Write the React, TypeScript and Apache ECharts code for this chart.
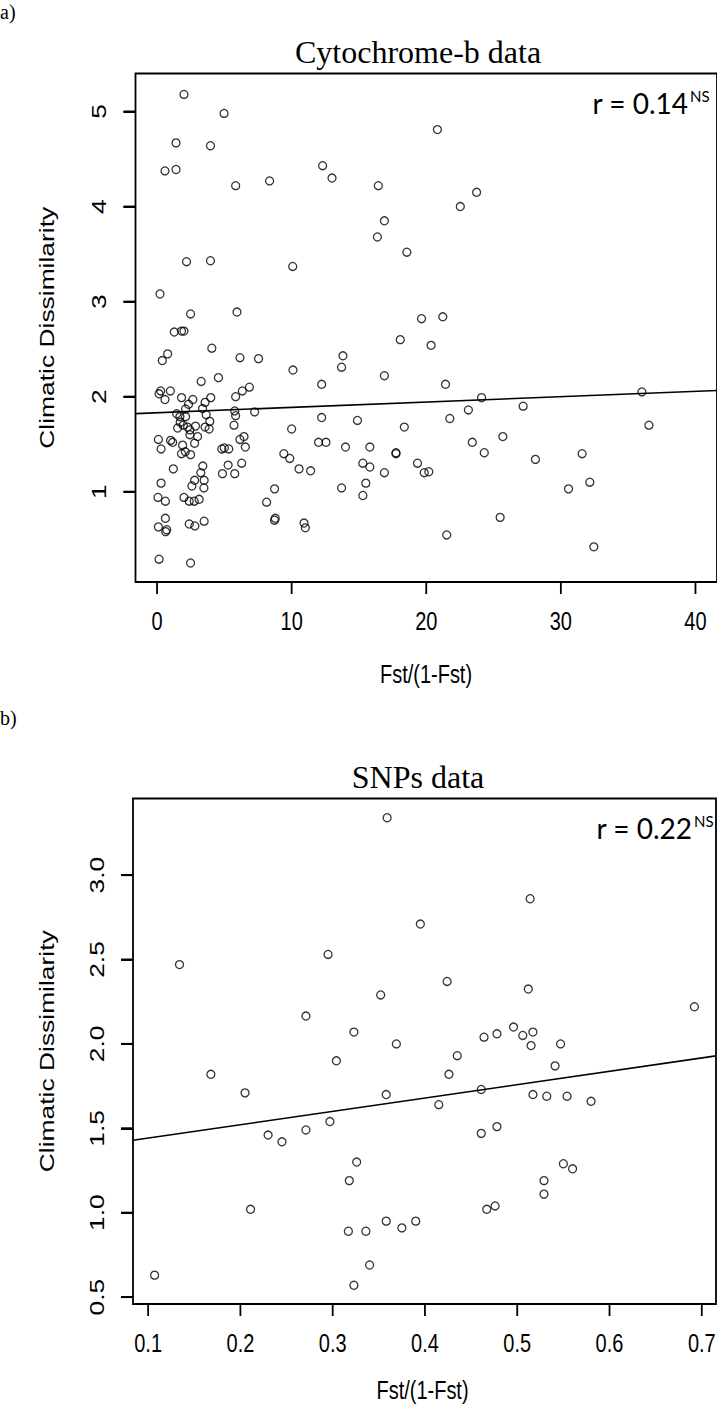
import React, { useEffect, useRef } from "react";
import * as echarts from "echarts";

// Panel a: Cytochrome-b data
const cytbFst: number[] = [
  2.0, 4.98, 1.41, 3.97, 0.59, 1.41, 5.84, 8.36, 12.3, 13.0, 2.19, 3.97, 10.08, 0.22,
  20.83, 16.44, 23.74, 22.53, 16.89, 16.37, 18.56,
  2.49, 5.94, 1.28, 1.82, 2.0, 4.07, 0.79, 0.39, 6.16, 7.54, 10.1, 12.23, 3.28, 4.56,
  0.27, 0.15, 0.99, 0.59, 1.82, 2.66, 3.99, 2.34, 3.57, 2.12, 3.38, 5.84, 6.34, 6.86,
  1.46, 1.7, 2.12, 3.65, 5.77, 5.84, 7.25, 1.72, 1.95, 3.92, 3.57, 1.53, 2.27, 2.44,
  2.86, 3.87, 5.72, 2.44, 3.01, 2.79, 0.1, 0.3, 1.01, 1.16, 1.9, 1.82, 2.1, 2.49,
  6.16, 6.46, 6.56, 4.81, 5.0, 5.33, 10.0, 12.23, 12.0, 12.55, 9.42, 9.86, 10.55, 11.41,
  1.21, 3.4, 3.25, 5.28, 6.29, 4.86, 5.77, 2.79, 2.59, 3.5, 3.48, 0.3, 0.07, 0.62,
  2.0, 2.39, 2.76, 3.13, 8.73, 8.14, 8.78, 8.73, 0.62, 0.1, 0.72, 0.64, 2.39, 2.81,
  3.5, 10.92, 11.02, 0.15, 2.49,
  19.65, 21.23, 18.07, 20.36, 13.81, 13.71, 16.89, 21.43, 24.11, 23.13, 14.89, 21.75,
  18.37, 14.0, 15.81, 17.75, 17.75, 23.42, 25.69, 24.31, 15.29, 15.81, 16.89, 19.35,
  19.85, 20.19, 15.51, 15.29, 13.71, 25.49, 21.52,
  36.02, 27.2, 36.54, 28.11, 31.58, 32.15, 30.57, 32.45,
];
const cytbClim: number[] = [
  5.18, 4.98, 4.67, 4.64, 4.375, 4.39, 4.22, 4.27, 4.43, 4.3, 3.42, 3.43, 3.37, 3.08,
  4.81, 4.22, 4.15, 4.0, 3.85, 3.68, 3.52,
  2.87, 2.89, 2.68, 2.69, 2.69, 2.51, 2.45, 2.38, 2.41, 2.4, 2.28, 2.13, 2.16, 2.2,
  2.06, 2.03, 2.06, 1.97, 1.99, 1.97, 1.99, 1.92, 1.94, 1.87, 1.875, 2.0, 2.06, 2.1,
  1.82, 1.79, 1.79, 1.81, 1.85, 1.8, 1.84, 1.73, 1.7, 1.74, 1.68, 1.67, 1.68, 1.65,
  1.69, 1.66, 1.7, 1.6, 1.58, 1.51, 1.55, 1.45, 1.54, 1.52, 1.49, 1.4, 1.42, 1.39,
  1.55, 1.58, 1.47, 1.45, 1.46, 1.45, 1.66, 1.78, 1.52, 1.52, 1.4, 1.35, 1.24, 1.22,
  1.24, 1.27, 1.2, 1.28, 1.3, 1.19, 1.19, 1.12, 1.06, 1.12, 1.04, 1.09, 0.94, 0.9,
  0.94, 0.9, 0.9, 0.92, 1.03, 0.89, 0.72, 0.7, 0.72, 0.63, 0.6, 0.58, 0.66, 0.64,
  0.69, 0.67, 0.62, 0.29, 0.25,
  2.82, 2.84, 2.6, 2.54, 2.43, 2.31, 2.22, 2.13, 1.99, 1.86, 1.75, 1.77,
  1.68, 1.47, 1.47, 1.41, 1.4, 1.52, 1.58, 1.41, 1.3, 1.26, 1.2, 1.3,
  1.2, 1.21, 1.09, 0.96, 1.04, 0.73, 0.545,
  2.05, 1.9, 1.7, 1.34, 1.4, 1.1, 1.03, 0.42,
];

// Panel b: SNPs data
const snpFst: number[] = [
  0.359, 0.395, 0.134, 0.295, 0.352, 0.271, 0.323, 0.514, 0.424, 0.512, 0.692,
  0.464, 0.478, 0.496, 0.506, 0.517, 0.515, 0.547, 0.435, 0.541, 0.426, 0.461,
  0.415, 0.517, 0.532, 0.554, 0.58, 0.461, 0.478, 0.55, 0.56, 0.529, 0.529, 0.467,
  0.476, 0.369, 0.304, 0.168, 0.205, 0.358, 0.23, 0.245, 0.271, 0.297, 0.326, 0.318,
  0.211, 0.317, 0.336, 0.358, 0.375, 0.39, 0.34, 0.323, 0.107,
];
const snpClim: number[] = [
  3.34, 2.71, 2.47, 2.53, 2.29, 2.165, 2.07, 2.86, 2.37, 2.325, 2.22,
  2.04, 2.06, 2.1, 2.05, 2.07, 1.99, 2.0, 1.93, 1.87, 1.82, 1.73,
  1.64, 1.7, 1.69, 1.69, 1.66, 1.47, 1.51, 1.29, 1.26, 1.19, 1.11, 1.02,
  1.04, 2.0, 1.9, 1.82, 1.71, 1.7, 1.46, 1.42, 1.49, 1.54, 1.3, 1.19,
  1.02, 0.89, 0.89, 0.95, 0.91, 0.95, 0.69, 0.57, 0.63,
];

// Axis ranges and ticks
const cytbXRange = [-1.6, 41.6];
const cytbYRange = [0.05, 5.4];
const cytbXTicks = [0, 10, 20, 30, 40];
const cytbYTicks = [1, 2, 3, 4, 5];
const snpXRange = [0.0836, 0.7154];
const snpYRange = [0.459, 3.454];
const snpXTicks = [0.1, 0.2, 0.3, 0.4, 0.5, 0.6, 0.7];
const snpYTicks = [0.5, 1.0, 1.5, 2.0, 2.5, 3.0];
const cytbXLabels = ["0", "10", "20", "30", "40"];
const cytbYLabels = ["1", "2", "3", "4", "5"];
const snpXLabels = ["0.1", "0.2", "0.3", "0.4", "0.5", "0.6", "0.7"];
const snpYLabels = ["0.5", "1.0", "1.5", "2.0", "2.5", "3.0"];

// Regression fits (intercept, slope)
const cytbFit = [1.831, 0.00563];
const snpFit = [1.363, 0.791];

const zip = (a: number[], b: number[]) => a.map((v, i) => [v, b[i]]);
const fitLine = (fit: number[], range: number[]) =>
  range.map((x) => [x, fit[0] + fit[1] * x]);

export default function App() {
  const ref = useRef<HTMLDivElement>(null);
  useEffect(() => {
    if (!ref.current) return;
    const chart = echarts.init(ref.current, undefined, { renderer: "svg" });
    const sans = "'Liberation Sans', Arial, sans-serif";
    const serif = "'Liberation Serif', 'Times New Roman', serif";
    const calib = "Lato, 'Open Sans', sans-serif";
    const TICK = 12;
    const scatterStyle = {
      symbol: "circle",
      symbolSize: 8,
      itemStyle: { color: "rgba(0,0,0,0)", borderColor: "#000", borderWidth: 1.3 },
    };
    const mkX = (gi: number, range: number[]) => ({
      gridIndex: gi, type: "value", min: range[0], max: range[1],
      axisLine: { show: false, onZero: false }, splitLine: { show: false },
      axisTick: { show: false }, axisLabel: { show: false },
    });
    const mkY = (gi: number, range: number[], ticks: number[]) => ({
      gridIndex: gi, type: "value", min: range[0], max: range[1], position: "left",
      axisLine: { show: false, onZero: false }, splitLine: { show: false },
      axisTick: { show: true, inside: false, length: TICK, customValues: ticks, lineStyle: { color: "#000", width: 2 } },
      axisLabel: { show: false },
    });
    const grids = [
      { left: 135.5, top: 73.5, width: 585, height: 508.5 },
      { left: 133, top: 798.5, width: 583, height: 505.5 },
    ];
    chart.setOption({
      animation: false,
      backgroundColor: "#fff",
      grid: grids.map((g) => ({ ...g, show: true, borderColor: "#000", borderWidth: 1.8, backgroundColor: "transparent" })),
      xAxis: [mkX(0, cytbXRange), mkX(1, snpXRange)],
      yAxis: [mkY(0, cytbYRange, cytbYTicks), mkY(1, snpYRange, snpYTicks)],
      series: [
        { type: "scatter", xAxisIndex: 0, yAxisIndex: 0, data: zip(cytbFst, cytbClim), ...scatterStyle },
        { type: "line", xAxisIndex: 0, yAxisIndex: 0, data: fitLine(cytbFit, cytbXRange), showSymbol: false, symbol: "none", lineStyle: { color: "#000", width: 1.6 } },
        { type: "scatter", xAxisIndex: 1, yAxisIndex: 1, data: zip(snpFst, snpClim), ...scatterStyle },
        { type: "line", xAxisIndex: 1, yAxisIndex: 1, data: fitLine(snpFit, snpXRange), showSymbol: false, symbol: "none", lineStyle: { color: "#000", width: 1.6 } },
      ],
    });

    // Axis ticks and texts, placed through the axes' own scales (R output is stretched vertically)
    const FS = 20;
    const STRETCH = 1.32;
    const txt = (text: string, x: number, y: number, extra: any = {}) => ({
      type: "text", x, y, silent: true, ...extra,
      style: { text, fontSize: FS, fontFamily: sans, fill: "#000", align: "center", verticalAlign: "middle", textAlign: "center", textVerticalAlign: "middle" },
    });
    const bar = (x: number, y: number, w: number, h: number) => ({
      type: "rect", silent: true, z: 100, shape: { x, y, width: w, height: h },
      style: { fill: "#000" },
    });
    const els: any[] = [];
    const panels = [
      { gi: 0, xr: cytbXRange, yr: cytbYRange, xt: cytbXTicks, yt: cytbYTicks, xl: cytbXLabels, yl: cytbYLabels, xNameY: 674 },
      { gi: 1, xr: snpXRange, yr: snpYRange, xt: snpXTicks, yt: snpYTicks, xl: snpXLabels, yl: snpYLabels, xNameY: 1390 },
    ];
    panels.forEach((p) => {
      const g = grids[p.gi];
      const bottom = g.top + g.height;
      p.xt.forEach((v, i) => {
        const px = chart.convertToPixel({ gridIndex: p.gi }, [v, p.yr[0]]) as number[];
        els.push(bar(px[0] - 0.9, bottom, 1.8, TICK));
        els.push(txt(p.xl[i], px[0], bottom + 39, { scaleY: STRETCH }));
      });
      p.yt.forEach((v, i) => {
        const px = chart.convertToPixel({ gridIndex: p.gi }, [p.xr[0], v]) as number[];
        const yPix = Number(px[1]);
        els.push(bar(g.left - TICK, yPix - 1, TICK, 2));
        els.push(txt(p.yl[i], g.left - 36, yPix, { rotation: Math.PI / 2, scaleX: STRETCH }));
      });
      els.push(txt("Fst/(1-Fst)", g.left + g.width / 2 - 2, p.xNameY, { scaleY: STRETCH }));
      els.push(txt("Climatic Dissimilarity", 47, g.top + g.height / 2, { rotation: Math.PI / 2, scaleX: STRETCH }));
    });

    const plain = (text: string, x: number, y: number, size: number, family: string, align: string) => ({
      type: "text", x, y, silent: true,
      style: { text, fontSize: size, fontFamily: family, fill: "#000", align, verticalAlign: "middle", textAlign: align, textVerticalAlign: "middle" },
    });
    els.push(plain("a)", 0, 12, 20, serif, "left"));
    els.push(plain("b)", 0, 718, 20, serif, "left"));
    els.push(plain("Cytochrome-b data", 418, 52, 32, serif, "center"));
    els.push(plain("SNPs data", 418, 777, 32, serif, "center"));
    els.push(plain("r = 0.14", 688, 103, 28, calib, "right"));
    els.push(plain("NS", 690, 96, 15, calib, "left"));
    els.push(plain("r = 0.22", 692, 828, 28, calib, "right"));
    els.push(plain("NS", 694, 821, 15, calib, "left"));

    chart.setOption({ graphic: els });
    return () => chart.dispose();
  }, []);
  return (
    <div
      ref={ref}
      style={{ position: "absolute", left: 0, top: 0, width: 717, height: 1410, background: "#fff" }}
    />
  );
}
